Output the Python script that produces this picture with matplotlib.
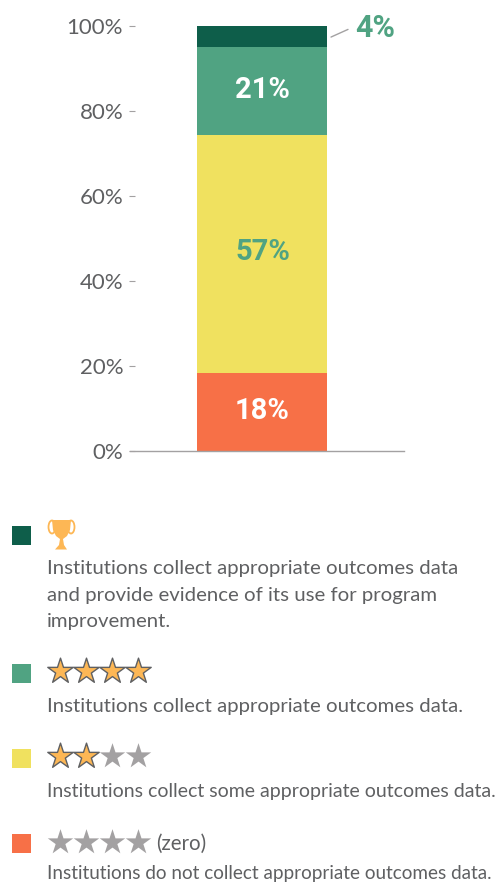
import matplotlib
matplotlib.use('Agg')
import matplotlib.pyplot as plt
from matplotlib.patches import Polygon, Rectangle, Ellipse

W, H = 496, 885

# bar segments, bottom to top (heights)
seg_values = [18.45, 55.9, 20.7, 4.95]
seg_labels = ['18%', '57%', '21%', '4%']
seg_colors = ['#f77047', '#f0e15f', '#50a382', '#0e5e4a']
y_ticks = [0, 20, 40, 60, 80, 100]

legend_texts = [
    ['Institutions collect appropriate outcomes data',
     'and provide evidence of its use for program',
     'improvement.'],
    ['Institutions collect appropriate outcomes data.'],
    ['Institutions collect some appropriate outcomes data.'],
    ['Institutions do not collect appropriate outcomes data.'],
]
legend_stars = [0, 4, 2, 0]
legend_colors = ['#0e5e4a', '#50a382', '#f0e15f', '#f77047']

TEXT = '#5f6062'
GOLD = '#fdb755'
GREY = '#a3a1a2'
FONT = ['Lato', 'DejaVu Sans']

fig = plt.figure(figsize=(W / 100, H / 100), dpi=100, facecolor='white')

# main chart, placed in pixels
ax = fig.add_axes([135 / W, 1 - 451.5 / H, 269 / W, 425.5 / H])
ax.set_xlim(135, 404)
ax.set_ylim(0, 100)
bottom = 0
for v, lab, c in zip(seg_values, seg_labels, seg_colors):
    ax.bar(262, v, width=130, bottom=bottom, color=c, linewidth=0)
    mid = bottom + v / 2
    if lab == '57%':
        ax.text(262.5, mid + 0.4, lab, color='#50a382', fontsize=21, fontweight='bold',
                family='Roboto', ha='center', va='center')
    elif lab == '4%':
        ax.annotate('', xy=(331, 97.4), xytext=(348, 99.2),
                    arrowprops=dict(arrowstyle='-', color='#a3a1a2', lw=1, shrinkA=0, shrinkB=0))
        ax.text(375, 99.6, lab, color='#50a382', fontsize=22, fontweight='bold',
                family='Roboto', ha='center', va='center', clip_on=False)
    else:
        ax.text(262.5, mid + 0.2, lab, color='white', fontsize=21, fontweight='bold',
                family='Roboto', ha='center', va='center')
    bottom += v

for s in ['top', 'right', 'left', 'bottom']:
    ax.spines[s].set_visible(False)
ax.set_xticks([])
ax.set_yticks(y_ticks)
ax.set_yticklabels([f'{t}%' for t in y_ticks], fontsize=16, color=TEXT, family=FONT)
ax.tick_params(axis='y', length=4.5, width=0.8, color='#a3a1a2', pad=4, direction='out')
ax.patch.set_alpha(0)

# legend overlay in pixel coordinates
lg = fig.add_axes([0, 0, 1, 1])
lg.set_xlim(0, W)
lg.set_ylim(H, 0)
lg.axis('off')
lg.patch.set_alpha(0)
lg.plot([130, 404], [451, 451], color='#a3a1a2', lw=1)

square_y = [535, 673, 758, 843.5]
star_y = [0, 671, 756, 842]
text_y = [[568.5, 595, 621.5], [706.5], [791.5], [873.5]]
text_size = [14.65, 14.65, 14.05, 13.6]
star_x = [59.5, 85.5, 111.5, 137.5]

for c, sy in zip(legend_colors, square_y):
    lg.add_patch(Rectangle((12, sy - 9.5), 19, 19, color=c, linewidth=0))

for n, sy in zip(legend_stars, star_y):
    if sy == 0:
        continue
    for i, x in enumerate(star_x):
        if i < n:
            lg.scatter(x, sy, marker='*', s=370, color=GOLD, edgecolor='#5f6062', linewidth=1, zorder=3)
        else:
            lg.scatter(x, sy, marker='*', s=370, color=GREY, linewidth=0, zorder=3)

lg.text(156, 844, '(zero)', fontsize=14.8, color=TEXT, family=FONT, ha='left', va='center')

for lines, ys, fs in zip(legend_texts, text_y, text_size):
    for line, y in zip(lines, ys):
        lg.text(47, y, line, fontsize=fs, color=TEXT, family=FONT, ha='left', va='center')

# trophy
lg.add_patch(Polygon([(52, 520), (71, 520), (70, 530), (67, 536), (63, 539), (60, 539),
                      (56, 536), (53, 530)], closed=True, color=GOLD, linewidth=0))
lg.add_patch(Polygon([(60, 539), (63, 539), (64, 545), (67, 549.5), (55, 549.5), (59, 545)],
                     closed=True, color=GOLD, linewidth=0))
lg.add_patch(Ellipse((52, 527), 7, 13, fill=False, edgecolor=GOLD, linewidth=1.3))
lg.add_patch(Ellipse((71, 527), 7, 13, fill=False, edgecolor=GOLD, linewidth=1.3))

fig.savefig('out.png', dpi=100, facecolor='white')
